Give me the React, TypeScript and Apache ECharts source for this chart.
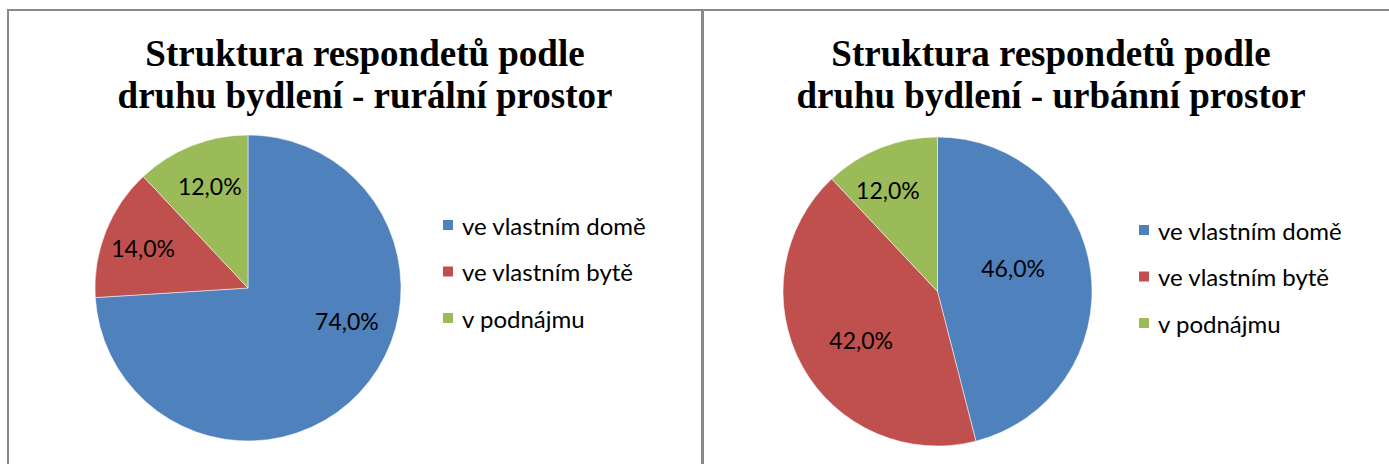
import React, { useEffect, useRef } from "react";
import * as echarts from "echarts";

const categories = ["ve vlastním domě", "ve vlastním bytě", "v podnájmu"];
const ruralValues = [74, 14, 12];
const urbanValues = [46, 42, 12];
const titleRural = "Struktura respondetů podle\ndruhu bydlení - rurální prostor";
const titleUrban = "Struktura respondetů podle\ndruhu bydlení - urbánní prostor";

const COLORS = ["#4F81BD", "#C0504D", "#9BBB59"];
const SANS = "Lato, 'Open Sans', sans-serif";
const SERIF = "'Liberation Serif', 'DejaVu Serif', serif";

// label nudges relative to ECharts' "inside" position
const ruralLabelShift = [
  [41, -21],
  [-31, -11],
  [-9, -28],
];
const urbanLabelShift = [
  [-4, -13],
  [-6, 10],
  [-20, -27],
];

const fmt = (v: number) => v.toFixed(1).replace(".", ",") + "%";

export default function App() {
  const ref = useRef<HTMLDivElement>(null);
  useEffect(() => {
    if (!ref.current) return;
    const chart = echarts.init(ref.current, null, { renderer: "svg" });
    const mkSeries = (
      values: number[],
      center: [number, number],
      radius: number,
      shifts: number[][]
    ) => ({
      type: "pie",
      center,
      radius,
      startAngle: 90,
      clockwise: true,
      avoidLabelOverlap: false,
      silent: true,
      itemStyle: { borderColor: "#ffffff", borderWidth: 0.5 },
      label: {
        show: true,
        position: "inside",
        formatter: (p: any) => fmt(p.value),
        color: "#000",
        fontFamily: SANS,
        fontSize: 23,
      },
      labelLine: { show: false },
      labelLayout: (p: any) => ({
        dx: shifts[p.dataIndex][0],
        dy: shifts[p.dataIndex][1],
      }),
      data: values.map((v, i) => ({
        name: categories[i],
        value: v,
        itemStyle: { color: COLORS[i] },
      })),
    });
    const legendBase = {
      orient: "vertical",
      icon: "rect",
      padding: 0,
      itemWidth: 12,
      itemHeight: 12,
      itemGap: 22.5,
      selectedMode: false,
      data: categories,
      textStyle: {
        fontFamily: SANS,
        fontSize: 24,
        lineHeight: 24,
        color: "#000",
        padding: [0, 0, 0, 3],
      },
    };
    chart.setOption({
      animation: false,
      color: COLORS,
      legend: [
        { ...legendBase, left: 441, top: 213 },
        { ...legendBase, left: 1137, top: 218 },
      ],
      graphic: [
        {
          type: "rect",
          shape: { x: 8, y: 10, width: 694, height: 480 },
          style: { fill: "none", stroke: "#8a8a8a", lineWidth: 2 },
        },
        {
          type: "rect",
          shape: { x: 703, y: 10, width: 800, height: 480 },
          style: { fill: "none", stroke: "#8a8a8a", lineWidth: 2 },
        },
        {
          type: "text",
          x: 365,
          y: 32,
          style: {
            text: titleRural,
            fontFamily: SERIF,
            fontWeight: "bold",
            fontSize: 37,
            lineHeight: 42,
            textAlign: "center",
            textVerticalAlign: "top",
            fill: "#000",
          },
        },
        {
          type: "text",
          x: 1051,
          y: 32,
          style: {
            text: titleUrban,
            fontFamily: SERIF,
            fontWeight: "bold",
            fontSize: 37,
            lineHeight: 42,
            textAlign: "center",
            textVerticalAlign: "top",
            fill: "#000",
          },
        },
      ],
      series: [
        mkSeries(ruralValues, [248, 288], 153, ruralLabelShift),
        mkSeries(urbanValues, [937.5, 291.5], 154.5, urbanLabelShift),
      ],
    });
    return () => chart.dispose();
  }, []);
  return (
    <div
      ref={ref}
      style={{ position: "absolute", left: 0, top: 0, width: 1389, height: 464, background: "#fff" }}
    />
  );
}
